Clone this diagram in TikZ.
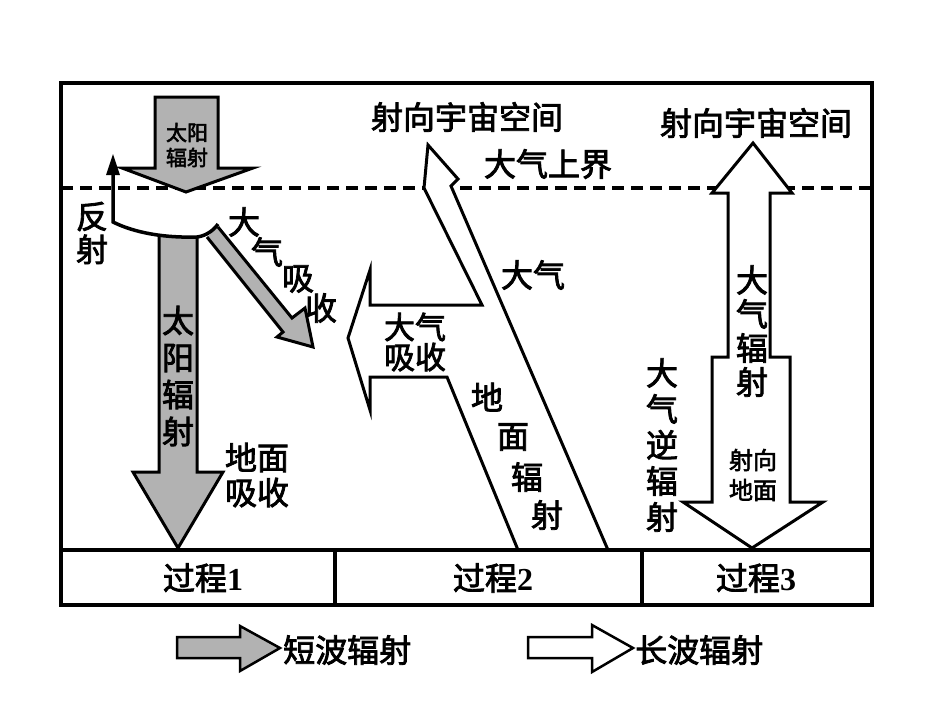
\documentclass[tikz,border=0pt]{standalone}
\usepackage{fontspec}
\setmainfont{Noto Sans CJK SC}[FakeBold=2.5]
\newfontfamily\digitfont{Liberation Serif}
\usepackage{xcolor}
\usetikzlibrary{arrows.meta, calc}
\definecolor{swgray}{RGB}{178,178,178}

\begin{document}
\begin{tikzpicture}[x=1pt, y=-1pt,
    lbl/.style={font=\fontsize{32}{35}\selectfont, inner sep=0pt, align=center},
    lblsmall/.style={font=\fontsize{21}{25}\selectfont, inner sep=0pt, align=center},
    shortwave/.style={draw, fill=swgray, line width=3pt, line join=miter},
    longwave/.style={draw, fill=white, line width=3pt, line join=miter},
    frameline/.style={line width=3.5pt},
    thinline/.style={line width=3.5pt},
]
\useasboundingbox (0,0) rectangle (950,713);

% Top of the atmosphere
\draw[thinline, dash pattern=on 12pt off 7pt] (61,188) -- (872,188);

% Process 1: short wave
\draw[shortwave] (155,97) -- (218,97) -- (218,168) -- (253,168) -- (186,192) -- (122,168) -- (155,168) -- cycle;
\draw[shortwave] (159,236) -- (159,472) -- (133,472) -- (178,548) -- (223,472) -- (197,472) -- (197,237);
\draw[shortwave] (218,227) -- (292,318) -- (305,308) -- (313,347) -- (277,337) -- (283,332) -- (207,237);
\coordinate (refltip) at (113,154);
\fill (refltip) -- ++(-7,21) -- ++(14,0) -- cycle;
\draw[thinline] ($(refltip)+(0,20)$) -- (113,222)
    .. controls (135,233) and (165,238) .. (197,237)
    .. controls (206,236) and (214,230) .. (218,224);

\node[lblsmall] (sun) at (187,145) {太阳\\辐射};
\node[lbl, font=\fontsize{32}{33}\selectfont] (refl) at (92,233) {反\\射};
\node[lbl, font=\fontsize{32}{37}\selectfont] (sunrad) at (178,376) {太\\阳\\辐\\射};
\node[lbl] (grabs) at (257,475) {地面\\吸收};
\foreach \ch/\x/\y [count=\i] in {大/244/222, 气/267/252, 吸/298/279, 收/321/308}
    \node[lbl] (atmabs\i) at (\x,\y) {\ch};

% Process 2: ground radiation
\draw[longwave] (518,550) -- (447,377) -- (370,377) -- (370,410) -- (348,338) -- (370,270) -- (370,305)
    -- (482,305) -- (424,188) -- (428,145) -- (458,179) -- (451,186) -- (608,550);

\node[lbl] (space2) at (467,117) {射向宇宙空间};
\node[lbl] (toa) at (548,164) {大气上界};
\node[lbl] (atm2) at (533,275) {大气};
\node[lbl, font=\fontsize{31}{30}\selectfont] (abs2) at (415,342) {大气\\吸收};
\foreach \ch/\x/\y [count=\i] in {地/487/397, 面/513/437, 辐/527/477, 射/547/515}
    \node[lbl] (grrad\i) at (\x,\y) {\ch};

% Process 3: atmospheric radiation
\draw[longwave] (753,143) -- (792,193) -- (770,193) -- (770,357) -- (790,357) -- (790,502) -- (823,502)
    -- (752,548) -- (683,502) -- (712,502) -- (712,357) -- (728,357) -- (728,193) -- (712,193) -- cycle;

\node[lbl] (space3) at (756,123) {射向宇宙空间};
\node[lbl, font=\fontsize{32}{34}\selectfont] (atmrad) at (752,331) {大\\气\\辐\\射};
\node[lblsmall, font=\fontsize{24}{30}\selectfont] (toground) at (753,475) {射向\\地面};
\node[lbl, font=\fontsize{32}{36}\selectfont] (backrad) at (662,445) {大\\气\\逆\\辐\\射};

% Frame and table
\draw[frameline] (61,83) rectangle (872,605);
\draw[frameline] (61,550) -- (872,550);
\draw[frameline] (335,550) -- (335,605);
\draw[frameline] (642,550) -- (642,605);
\node[lbl] (p1) at (203,578) {过程{\digitfont\bfseries 1}};
\node[lbl] (p2) at (493,578) {过程{\digitfont\bfseries 2}};
\node[lbl] (p3) at (756,578) {过程{\digitfont\bfseries 3}};

% Legend
\draw[shortwave, line width=2.5pt] (177,637) -- (240,637) -- (240,626) -- (280,648) -- (240,671) -- (240,658) -- (177,658) -- cycle;
\node[lbl, anchor=west] (swtxt) at (283,650) {短波辐射};
\draw[longwave, line width=2.5pt] (528,637) -- (592,637) -- (592,625) -- (633,648) -- (592,672) -- (592,658) -- (528,658) -- cycle;
\node[lbl, anchor=west] (lwtxt) at (635,650) {长波辐射};
\end{tikzpicture}
\end{document}
